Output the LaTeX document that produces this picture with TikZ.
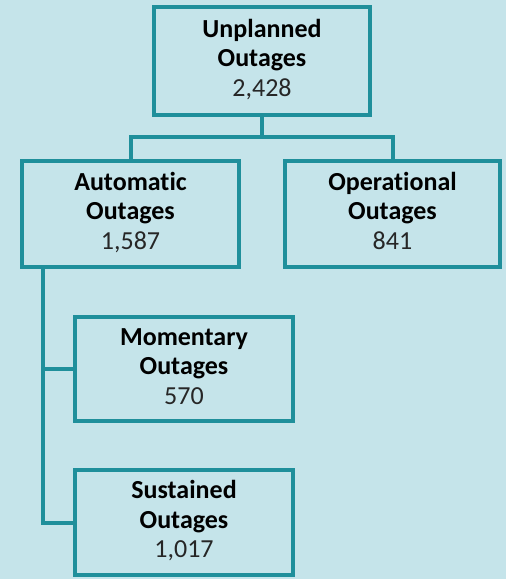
\documentclass[tikz,border=0pt]{standalone}
\usepackage{fontspec}
\setmainfont{Carlito}[Ligatures=NoCommon]
\definecolor{bgc}{HTML}{C5E4EA}
\definecolor{linec}{HTML}{1F8F9B}
\definecolor{numc}{HTML}{262626}
\begin{document}
\begin{tikzpicture}[x=1pt,y=-1pt,
  box/.style={draw=linec, line width=4pt, fill=bgc, align=center, inner sep=0pt,
    font=\fontsize{26}{29.5}\selectfont},
  link/.style={draw=linec, line width=4pt}]
\fill[bgc] (0,0) rectangle (506,579);
\useasboundingbox (0,0) rectangle (506,579);
\node[box, minimum width=216pt, minimum height=108pt] (top) at (262,61)
  {\strut\textbf{Unplanned}\\\textbf{Outages}\\\textcolor{numc}{2,428}\strut};
\node[box, minimum width=217pt, minimum height=106pt] (auto) at (130.5,214)
  {\strut\textbf{Automatic}\\\textbf{Outages}\\\textcolor{numc}{1,587}\strut};
\node[box, minimum width=215pt, minimum height=106pt] (oper) at (392.5,214)
  {\strut\textbf{Operational}\\\textbf{Outages}\\\textcolor{numc}{841}\strut};
\node[box, minimum width=218pt, minimum height=104pt] (mom) at (184,369)
  {\strut\textbf{Momentary}\\\textbf{Outages}\\\textcolor{numc}{570}\strut};
\node[box, minimum width=218pt, minimum height=105pt] (sus) at (184,522.5)
  {\strut\textbf{Sustained}\\\textbf{Outages}\\\textcolor{numc}{1,017}\strut};
\coordinate (j) at (262,137);
\coordinate (a0) at ([xshift=-87.5pt]auto.south);
\draw[link] (top.south) -- (j);
\draw[link] (auto.north) |- (j) -| (oper.north);
\draw[link] (a0) |- (sus.west);
\draw[link] (a0 |- mom.west) -- (mom.west);
\end{tikzpicture}
\end{document}
